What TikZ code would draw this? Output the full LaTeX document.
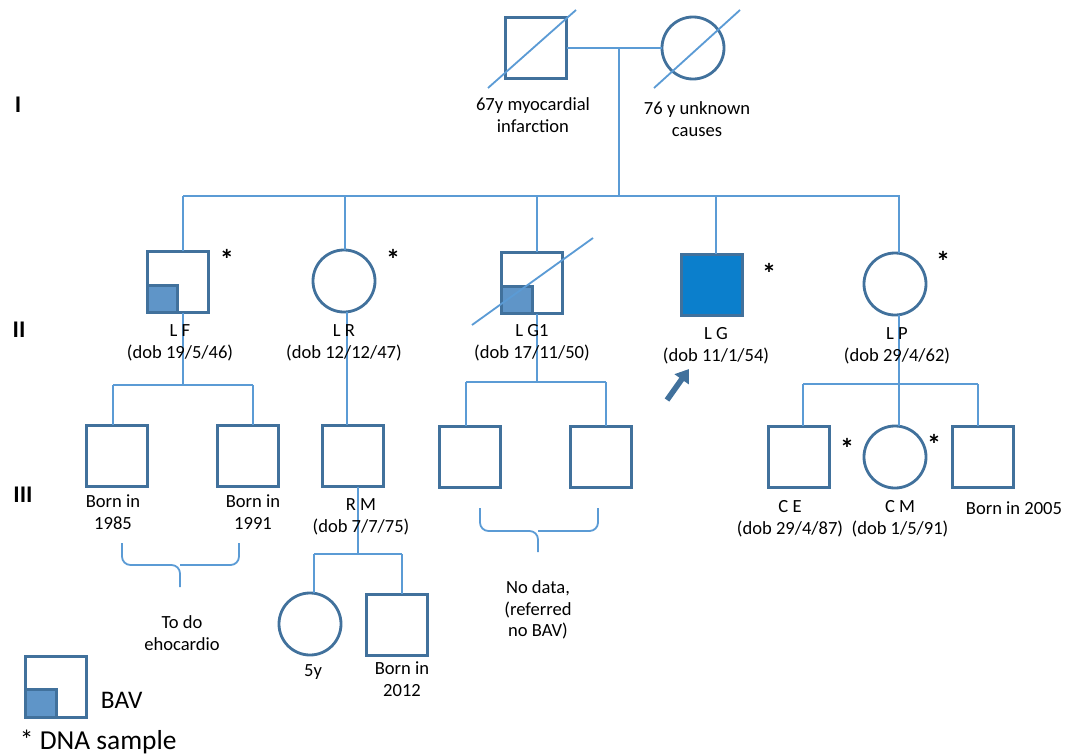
\documentclass[tikz,border=0pt]{standalone}
\usepackage{fontspec}
\setmainfont{Carlito}
\usetikzlibrary{arrows.meta}
\definecolor{edge}{HTML}{41719C}
\definecolor{linkc}{HTML}{5B9BD5}
\definecolor{bav}{HTML}{5F95C8}
\definecolor{prob}{HTML}{0B7FCC}
\tikzset{
  male/.style={draw=edge, line width=2pt, fill=white, minimum size=1.53cm, inner sep=0pt, outer sep=0pt},
  female/.style={circle, draw=edge, line width=2pt, fill=white, minimum size=1.55cm, inner sep=0pt, outer sep=0pt},
  link/.style={draw=linkc, line width=1.3pt},
  txt/.style={align=center, font=\fontsize{13.2}{15.5}\selectfont},
  dna/.style={font=\fontsize{20}{20}\selectfont\bfseries},
  gen/.style={font=\fontsize{17}{17}\selectfont\bfseries}
}

\begin{document}
\begin{tikzpicture}[x=0.025cm,y=-0.025cm]
\useasboundingbox (0,0) rectangle (1066,756);

% generation I
\node[male] (gf) at (536,48) {};
\node[female] (gm) at (693,48) {};
\coordinate (gfa) at (488,88);
\coordinate (gfb) at (576,10);
\coordinate (gma) at (654,88);
\coordinate (gmb) at (740,10);
\coordinate (m) at (619,48);
\coordinate (s0) at (619,196);
\coordinate (s1) at (183,196);
\coordinate (s5) at (900,196);
\draw[link] (gf) -- (gm);
\draw[link] (m) -- (s0);
\draw[link] (s1) -- (s5);
\draw[link] (gfa) -- (gfb);
\draw[link] (gma) -- (gmb);

% generation II
\node[male] (lf) at (178,282) {};
\node[female] (lr) at (344,281) {};
\node[male] (lg1) at (532,283) {};
\node[male, fill=prob] (lg) at (712,285) {};
\node[female] (lp) at (895,284) {};
\foreach \x/\n in {183/lf,345/lr,537/lg1,716/lg,899/lp}
{
\draw[link] (\x,196) -- (\x,196 |- \n.north);
}
\filldraw[fill=bav, draw=edge, line width=2pt] (lf.south west) rectangle ++(30,-27);
\filldraw[fill=bav, draw=edge, line width=2pt] (lg1.south west) rectangle ++(31,-27);
\coordinate (lga) at (472,325);
\coordinate (lgb) at (593,238);
\draw[link] (lga) -- (lgb);

% generation III
\node[male] (c85) at (117,456) {};
\node[male] (c91) at (248,456) {};
\node[male] (rm) at (353,456) {};
\node[male] (g1a) at (470,457) {};
\node[male] (g1b) at (601,457) {};
\node[male] (ce) at (799,457) {};
\node[female] (cm) at (895,457) {};
\node[male] (c05) at (983,457) {};
\coordinate (f1) at (113,385);
\coordinate (f2) at (253,385);
\coordinate (g1) at (466,382);
\coordinate (g2) at (606,382);
\coordinate (p1) at (803,384);
\coordinate (p3) at (978,384);
\draw[link] (183,196 |- lf.south) -- (183,385);
\draw[link] (f1) -- (f2);
\draw[link] (f1) -- (f1 |- c85.north);
\draw[link] (f2) -- (f2 |- c91.north);
\draw[link] (347,0 |- lr.south) -- (347,0 |- rm.north);
\draw[link] (537,0 |- lg1.south) -- (537,382);
\draw[link] (g1) -- (g2);
\draw[link] (g1) -- (g1 |- g1a.north);
\draw[link] (g2) -- (g2 |- g1b.north);
\draw[link] (899,0 |- lp.south) -- (899,0 |- cm.north);
\draw[link] (p1) -- (p3);
\draw[link] (p1) -- (p1 |- ce.north);
\draw[link] (p3) -- (p3 |- c05.north);

% generation IV
\node[female] (fy) at (310,624) {};
\node[male] (c12) at (397,625) {};
\coordinate (r1) at (314,554);
\coordinate (r2) at (402,554);
\draw[link] (358,0 |- rm.south) -- (358,554);
\draw[link] (r1) -- (r2);
\draw[link] (r1) -- (r1 |- fy.north);
\draw[link] (r2) -- (r2 |- c12.north);

% braces
\coordinate (ba) at (122,543);
\coordinate (bb) at (239,543);
\coordinate (bm) at (180,565);
\coordinate (bt) at (180,587);
\draw[link, rounded corners=6] (ba) |- (bm) -- (bt);
\draw[link, rounded corners=6] (bb) |- (bm);
\coordinate (na) at (480,508);
\coordinate (nb) at (598,508);
\coordinate (nm) at (538,531);
\coordinate (nt) at (538,552);
\draw[link, rounded corners=6] (na) |- (nm) -- (nt);
\draw[link, rounded corners=6] (nb) |- (nm);

% proband
\coordinate (pa) at (667,400);
\coordinate (pb) at (689,369);
\draw[edge, line width=4pt, -{Triangle[length=9pt,width=12pt]}] (pa) -- (pb);

% labels
\node[txt] (gft) at (533,115) {67y myocardial\\infarction};
\node[txt] (gmt) at (697,119) {76 y unknown\\causes};
\node[txt] (lft) at (180,343) {L F\\(dob 19/5/46)};
\node[txt] (lrt) at (344,343) {L R\\(dob 12/12/47)};
\node[txt] (lg1t) at (532,343) {L G1\\(dob 17/11/50)};
\node[txt] (lgt) at (716,346) {L G\\(dob 11/1/54)};
\node[txt] (lpt) at (897,346) {L P\\(dob 29/4/62)};
\node[txt] (c85t) at (113,512) {Born in\\1985};
\node[txt] (c91t) at (253,512) {Born in\\1991};
\node[txt] (rmt) at (361,517) {R M\\(dob 7/7/75)};
\node[txt] (cet) at (790,519) {C E\\(dob 29/4/87)};
\node[txt] (cmt) at (900,519) {C M\\(dob 1/5/91)};
\node[txt] (c05t) at (1014,508) {Born in 2005};
\node[txt] (fyt) at (313,672) {5y};
\node[txt] (c12t) at (402,679) {Born in\\2012};
\node[txt] (todo) at (182,633) {To do\\ehocardio};
\node[txt] (nodata) at (538,610) {No data,\\(referred\\no BAV)};

% DNA samples
\foreach \x/\y [count=\i] in {227/259,393/259,769/273,943/261,847/448,934/444}
{
\node[dna] (ast\i) at (\x,\y) {*};
}

% generations
\node[gen] (gen1) at (18,105) {I};
\node[gen] (gen2) at (19,330) {II};
\node[gen] (gen3) at (23,495) {III};

% legend
\node[male] (key) at (56,687) {};
\filldraw[fill=bav, draw=edge, line width=2pt] (key.south west) rectangle ++(31,-28);
\node[anchor=west, font=\fontsize{18}{18}\selectfont] (keyt) at (96,700) {BAV};
\node[anchor=west, font=\fontsize{19.5}{19.5}\selectfont] (dnat) at (15,742) {* DNA sample};

\end{tikzpicture}
\end{document}
